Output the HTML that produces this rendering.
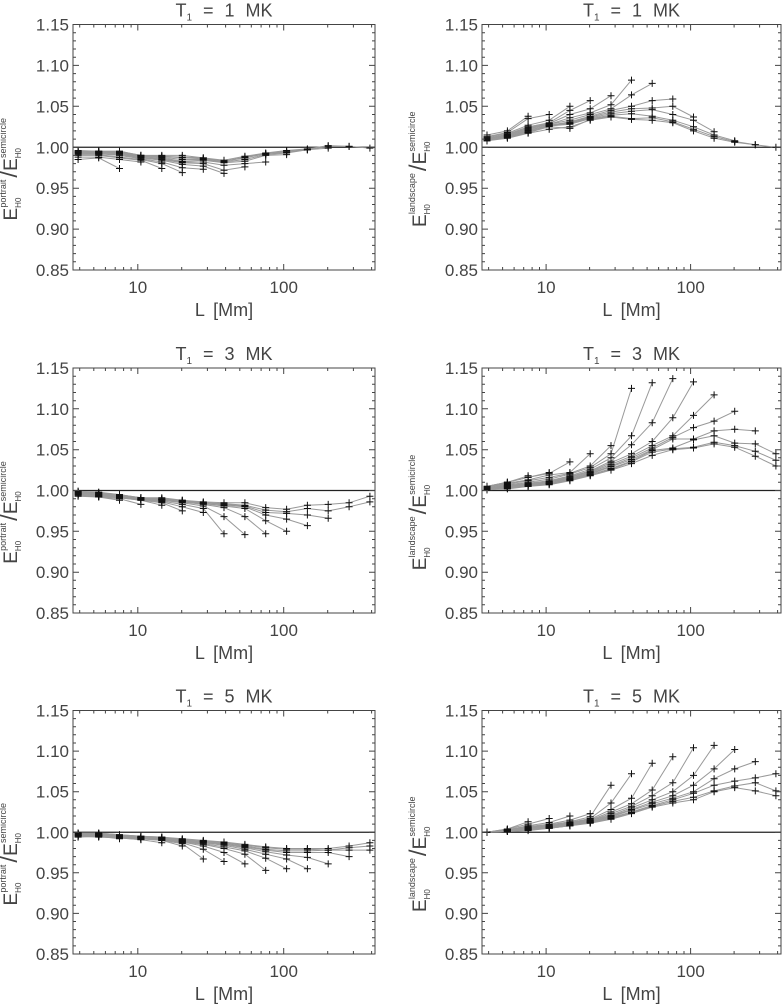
<!DOCTYPE html>
<html><head><meta charset="utf-8"><style>
html,body{margin:0;padding:0;background:#fff;}
svg{display:block;font-family:"Liberation Sans",sans-serif;}
</style></head><body>
<svg id="fig" width="784" height="1006" viewBox="0 0 784 1006" xmlns="http://www.w3.org/2000/svg"></svg>
<script>
const Lvals = [3.9,5.4,7.5,10.5,14.6,20.2,28.1,39.0,54.2,75.3,104.6,145.3,201.8,280.3,389.3];
const yTicks = [0.85,0.90,0.95,1.00,1.05,1.10,1.15];
const yTickLabels = ["0.85","0.90","0.95","1.00","1.05","1.10","1.15"];
const xTicks = [10,100];
const xTickLabels = ["10","100"];
const titles = ["1","1","3","3","5","5"];

const p1MK = [
[0.985,0.987,0.974],
[0.988,0.988,0.985,0.982],
[0.990,0.990,0.987,0.984,0.974],
[0.991,0.991,0.988,0.985,0.980,0.969],
[0.992,0.992,0.990,0.986,0.982,0.975,0.973],
[0.993,0.992,0.991,0.987,0.984,0.979,0.977,0.968],
[0.993,0.993,0.992,0.988,0.985,0.981,0.980,0.972,0.976],
[0.994,0.993,0.993,0.988,0.986,0.982,0.982,0.978,0.980,0.982],
[0.994,0.994,0.993,0.989,0.987,0.983,0.984,0.981,0.983,0.990,0.991],
[0.995,0.994,0.994,0.989,0.988,0.985,0.985,0.982,0.985,0.991,0.993,0.997],
[0.995,0.995,0.994,0.990,0.989,0.987,0.986,0.983,0.987,0.992,0.994,0.997,0.999],
[0.995,0.995,0.995,0.990,0.989,0.988,0.987,0.983,0.988,0.992,0.995,0.997,1.001,1.001],
[0.996,0.995,0.995,0.990,0.990,0.990,0.987,0.984,0.989,0.993,0.996,0.998,1.002,1.001,0.999]];
const l1MK = [
[1.015,1.020,1.038],
[1.013,1.018,1.035,1.040],
[1.012,1.017,1.027,1.033,1.050],
[1.011,1.016,1.025,1.030,1.045,1.057],
[1.011,1.015,1.024,1.029,1.040,1.047,1.063],
[1.010,1.015,1.023,1.028,1.036,1.042,1.052,1.082],
[1.010,1.014,1.022,1.028,1.033,1.040,1.047,1.064,1.078],
[1.009,1.014,1.021,1.027,1.031,1.038,1.045,1.050,1.057,1.059],
[1.009,1.013,1.020,1.027,1.030,1.037,1.043,1.047,1.048,1.050,1.037],
[1.009,1.013,1.019,1.026,1.029,1.036,1.041,1.044,1.046,1.040,1.033,1.019],
[1.008,1.012,1.018,1.026,1.028,1.035,1.039,1.041,1.038,1.033,1.025,1.015,1.008],
[1.008,1.012,1.018,1.025,1.023,1.034,1.038,1.035,1.036,1.031,1.022,1.013,1.007,1.003],
[1.008,1.011,1.017,1.022,1.025,1.033,1.037,1.034,1.033,1.030,1.020,1.011,1.006,1.003,1.000]];
const p3MK = [
[0.993,0.992,0.988],
[0.994,0.992,0.990,0.983],
[0.995,0.993,0.991,0.988,0.982],
[0.995,0.993,0.991,0.988,0.985,0.975],
[0.996,0.994,0.991,0.989,0.986,0.980,0.973],
[0.996,0.994,0.992,0.989,0.987,0.983,0.978,0.947],
[0.996,0.995,0.992,0.989,0.988,0.985,0.981,0.968,0.946],
[0.997,0.995,0.993,0.990,0.988,0.986,0.983,0.979,0.968,0.947],
[0.997,0.996,0.993,0.990,0.989,0.986,0.984,0.981,0.978,0.963,0.950],
[0.998,0.996,0.994,0.990,0.989,0.987,0.984,0.982,0.980,0.970,0.965,0.957],
[0.998,0.997,0.994,0.991,0.990,0.987,0.985,0.983,0.981,0.973,0.972,0.970,0.966],
[0.999,0.997,0.995,0.991,0.990,0.988,0.985,0.984,0.982,0.976,0.974,0.978,0.975,0.980,0.986],
[0.999,0.998,0.995,0.991,0.991,0.988,0.986,0.985,0.985,0.979,0.977,0.982,0.983,0.985,0.993]];
const l3MK = [
[1.005,1.010,1.018],
[1.005,1.010,1.016,1.022],
[1.005,1.010,1.016,1.021,1.035],
[1.004,1.009,1.013,1.019,1.022,1.045],
[1.004,1.008,1.012,1.016,1.021,1.030,1.055],
[1.003,1.007,1.010,1.014,1.020,1.028,1.045,1.125],
[1.003,1.006,1.009,1.012,1.018,1.026,1.040,1.067,1.132],
[1.003,1.006,1.008,1.011,1.017,1.024,1.036,1.056,1.083,1.137],
[1.002,1.005,1.008,1.010,1.016,1.023,1.034,1.045,1.060,1.089,1.133],
[1.002,1.005,1.007,1.010,1.015,1.022,1.032,1.042,1.055,1.067,1.092,1.117],
[1.002,1.004,1.007,1.009,1.014,1.021,1.030,1.040,1.052,1.065,1.077,1.085,1.097],
[1.002,1.004,1.006,1.009,1.014,1.020,1.029,1.038,1.050,1.063,1.063,1.073,1.075,1.073],
[1.001,1.003,1.006,1.008,1.013,1.019,1.027,1.036,1.049,1.052,1.062,1.067,1.058,1.057,1.045],
[1.001,1.003,1.005,1.008,1.013,1.019,1.026,1.035,1.047,1.051,1.053,1.059,1.055,1.048,1.037],
[1.001,1.002,1.005,1.007,1.012,1.018,1.025,1.033,1.043,1.050,1.052,1.057,1.053,1.042,1.030]];
const p5MK = [
[0.994,0.995,0.992],
[0.995,0.994,0.993,0.991],
[0.995,0.995,0.993,0.991,0.987],
[0.996,0.995,0.994,0.992,0.990,0.983],
[0.996,0.996,0.994,0.992,0.990,0.986,0.967],
[0.996,0.996,0.994,0.993,0.991,0.987,0.979,0.964],
[0.997,0.996,0.995,0.993,0.991,0.988,0.983,0.975,0.961],
[0.997,0.997,0.995,0.993,0.992,0.988,0.985,0.980,0.973,0.953],
[0.997,0.997,0.995,0.993,0.992,0.989,0.986,0.982,0.977,0.968,0.955],
[0.998,0.997,0.996,0.994,0.992,0.989,0.987,0.984,0.979,0.973,0.967,0.955],
[0.998,0.998,0.996,0.994,0.993,0.990,0.988,0.985,0.981,0.976,0.972,0.969,0.961],
[0.998,0.998,0.996,0.994,0.993,0.990,0.988,0.986,0.982,0.978,0.975,0.975,0.975,0.970],
[0.999,0.998,0.996,0.994,0.993,0.991,0.989,0.987,0.983,0.979,0.977,0.977,0.978,0.978,0.978],
[0.999,0.999,0.997,0.995,0.994,0.991,0.989,0.987,0.984,0.981,0.979,0.979,0.978,0.981,0.983],
[0.999,0.999,0.997,0.995,0.994,0.992,0.990,0.988,0.985,0.982,0.980,0.980,0.980,0.983,0.987]];
const l5MK = [
[1.000,1.004,1.013],
[1.000,1.004,1.010,1.017],
[1.000,1.003,1.008,1.012,1.020],
[1.000,1.003,1.007,1.010,1.015,1.023],
[1.000,1.003,1.006,1.009,1.013,1.019,1.058],
[1.000,1.003,1.006,1.008,1.012,1.017,1.036,1.072],
[1.000,1.002,1.005,1.008,1.011,1.016,1.028,1.042,1.085],
[1.000,1.002,1.005,1.007,1.011,1.015,1.025,1.035,1.052,1.093],
[1.000,1.002,1.004,1.007,1.010,1.014,1.023,1.032,1.045,1.061,1.104],
[1.000,1.002,1.004,1.006,1.010,1.014,1.021,1.030,1.040,1.050,1.070,1.107],
[1.000,1.002,1.004,1.006,1.009,1.013,1.020,1.028,1.037,1.045,1.058,1.078,1.102],
[1.000,1.002,1.003,1.006,1.009,1.013,1.019,1.027,1.035,1.042,1.050,1.066,1.078,1.087],
[1.000,1.001,1.003,1.005,1.008,1.012,1.018,1.025,1.033,1.040,1.048,1.058,1.063,1.067,1.072],
[1.000,1.001,1.003,1.005,1.008,1.012,1.017,1.024,1.032,1.038,1.043,1.051,1.057,1.061,1.051],
[1.000,1.001,1.002,1.005,1.008,1.011,1.016,1.023,1.031,1.036,1.040,1.050,1.055,1.051,1.045]];

const NS="http://www.w3.org/2000/svg";
const svg=document.getElementById('fig');
function mk(tag,attrs,parent){const e=document.createElementNS(NS,tag);for(const k in attrs)e.setAttribute(k,attrs[k]);(parent||svg).appendChild(e);return e;}

const XMIN=3.6, XMAX=422, YMIN=0.85, YMAX=1.15;
const panels=[
 {x0:73,x1:375,y0:24.5,y1:270,data:p1MK,kind:"portrait",t:0},
 {x0:482,x1:781,y0:24.5,y1:270,data:l1MK,kind:"landscape",t:1},
 {x0:73,x1:375,y0:368,y1:613,data:p3MK,kind:"portrait",t:2},
 {x0:482,x1:781,y0:368,y1:613,data:l3MK,kind:"landscape",t:3},
 {x0:73,x1:375,y0:710.5,y1:954,data:p5MK,kind:"portrait",t:4},
 {x0:482,x1:781,y0:710.5,y1:954,data:l5MK,kind:"landscape",t:5}];

panels.forEach((p,pi)=>{
  const g=mk('g',{});
  
  
  const sx=v=>p.x0+(Math.log10(v)-Math.log10(XMIN))/(Math.log10(XMAX)-Math.log10(XMIN))*(p.x1-p.x0);
  const sy=v=>p.y1-(v-YMIN)/(YMAX-YMIN)*(p.y1-p.y0);
  const cx=(p.x0+p.x1)/2;
  const tt=mk('text',{x:cx,y:p.y0-8,'text-anchor':'middle','font-size':18,fill:'#444','word-spacing':6},g);
  
  
  tt.innerHTML='T<tspan font-size="10" dy="4">1</tspan><tspan dy="-4"> = '+titles[p.t]+' MK</tspan>';
  const ref=mk('line',{x1:p.x0,x2:p.x1,y1:sy(1),y2:sy(1),stroke:'#222','stroke-width':1.2},g);
  
  
  p.data.forEach((s,si)=>{
    const pts=s.map((v,k)=>sx(Lvals[k]).toFixed(1)+','+sy(v).toFixed(1)).join(' ');
    const pl=mk('polyline',{points:pts,fill:'none',stroke:'#999','stroke-width':1},g);
    
    
  });
  p.data.forEach((s,si)=>{
    let d='';
    s.forEach((v,k)=>{const x=sx(Lvals[k]),y=sy(v);d+='M'+(x-3.5).toFixed(1)+' '+y.toFixed(1)+'h7M'+x.toFixed(1)+' '+(y-3.5).toFixed(1)+'v7';});
    const m=mk('path',{d:d,stroke:'#111','stroke-width':1,fill:'none'},g);
    
    
  });
  const fr=mk('rect',{x:p.x0,y:p.y0,width:p.x1-p.x0,height:p.y1-p.y0,fill:'none',stroke:'#444','stroke-width':1},g);
  
  
  let td='';
  for(let i=0;i<=30;i++){const v=YMIN+i*0.01;const y=sy(v);const L=(i%5===0)?6:3;td+='M'+p.x0+' '+y.toFixed(1)+'h'+L+'M'+p.x1+' '+y.toFixed(1)+'h'+(-L);}
  for(let dec=1;dec<=100;dec*=10){for(let m=1;m<=9;m++){const v=dec*m;if(v<XMIN||v>XMAX)continue;const x=sx(v);const L=(m===1)?6:3;td+='M'+x.toFixed(1)+' '+p.y1+'v'+(-L)+'M'+x.toFixed(1)+' '+p.y0+'v'+L;}}
  const tk=mk('path',{d:td,stroke:'#444','stroke-width':1,fill:'none'},g);
  
  
  yTicks.forEach((v,i)=>{
    const t=mk('text',{x:p.x0-4,y:sy(v)+6,'text-anchor':'end','font-size':17,fill:'#444'},g);
    
    
    t.textContent=yTickLabels[i];
  });
  xTicks.forEach((v,i)=>{
    const t=mk('text',{x:sx(v),y:p.y1+23,'text-anchor':'middle','font-size':17,fill:'#444'},g);
    
    
    t.textContent=xTickLabels[i];
  });
  const xt=mk('text',{x:cx,y:p.y1+46,'text-anchor':'middle','font-size':18,fill:'#444','word-spacing':4},g);
  
  
  xt.textContent='L [Mm]';
  const ay=(p.y0+p.y1)/2+22;
  const ax=p.x0-56;
  const yt=mk('text',{x:0,y:0,'font-size':19,fill:'#444',transform:'translate('+ax+','+ay+') rotate(-90)','text-anchor':'middle'},g);
  
  
  yt.innerHTML='E<tspan font-size="8" dy="4">H0</tspan><tspan font-size="9" dy="-15" dx="-10">'+p.kind+'</tspan><tspan dy="11" font-size="24" dx="2">/</tspan>E<tspan font-size="8" dy="4">H0</tspan><tspan font-size="9" dy="-15" dx="-10">semicircle</tspan>';
});
</script>
</body></html>
